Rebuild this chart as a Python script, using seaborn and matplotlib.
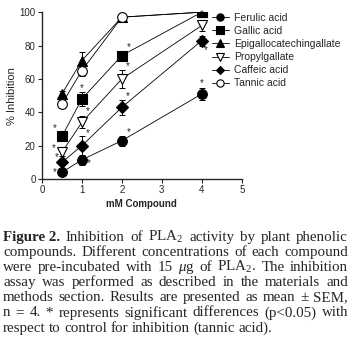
import numpy as np
import pandas as pd
import matplotlib
matplotlib.use('Agg')
import matplotlib.pyplot as plt
import seaborn as sns

# data (mean +/- SEM)
conc = [0.5, 1, 2, 4]
compounds = ['Ferulic acid', 'Gallic acid', 'Epigallocatechingallate',
             'Propylgallate', 'Caffeic acid', 'Tannic acid']
ferulic = [4, 11.5, 23, 51]
ferulic_err = [1.5, 3, 3, 3.5]
gallic = [25.5, 48, 74, 100]
gallic_err = [2.5, 4, 3, 0.5]
egcg = [51, 71, 97, 100]
egcg_err = [1.5, 5, 2.5, 0.5]
propyl = [16, 34, 60, 92]
propyl_err = [2, 3.5, 5.5, 3]
caffeic = [10, 20, 43, 83]
caffeic_err = [1.5, 6, 4.5, 3]
tannic = [45, 65, 97, 100]
tannic_err = [2.5, 3, 2, 0.5]

means = [ferulic, gallic, egcg, propyl, caffeic, tannic]
errs = [ferulic_err, gallic_err, egcg_err, propyl_err, caffeic_err, tannic_err]

# significance asterisks: (compound index, concentration index)
stars = [(0, 0), (0, 1), (0, 2), (0, 3), (1, 0), (1, 1), (1, 2),
         (3, 0), (3, 1), (3, 2), (3, 3), (4, 0), (4, 1), (4, 2), (4, 3)]
star_offsets = {(0, 0): (-5, 0), (0, 1): (5, -2), (0, 2): (5, 6), (0, 3): (0, 8),
                (1, 0): (-5, 6), (1, 1): (0, 8), (1, 2): (5, 6),
                (3, 0): (-6, 3), (3, 1): (4, 8), (3, 2): (4, 9), (3, 3): (0, 8),
                (4, 0): (-4, 4), (4, 1): (4, 9), (4, 2): (4, 8), (4, 3): (3, -7)}

rows = []
for name, m in zip(compounds, means):
    for c, v in zip(conc, m):
        rows.append({'compound': name, 'conc': c, 'inh': v})
df = pd.DataFrame(rows)

sns.set_style('ticks')
plt.rcParams['font.family'] = ['Liberation Sans', 'DejaVu Sans']
plt.rcParams['mathtext.fontset'] = 'custom'
plt.rcParams['mathtext.rm'] = 'Liberation Serif'
plt.rcParams['mathtext.it'] = 'Liberation Serif:italic'

markers = ['o', 's', '^', 'v', 'D', 'o']
fills = ['black', 'black', 'black', 'white', 'black', 'white']
sizes = [7, 7, 7, 7, 6, 7]
zorders = [4, 6, 3, 4, 4, 3]

fig = plt.figure(figsize=(3.52, 3.47), dpi=100)
ax = fig.add_axes([0.119, 0.484, 0.568, 0.481])

for i, name in enumerate(compounds):
    sub = df[df['compound'] == name]
    ax.errorbar(conc, means[i], yerr=errs[i], fmt='none', ecolor='black',
                elinewidth=0.7, capsize=2.5, capthick=0.7, zorder=2)
    sns.lineplot(data=sub, x='conc', y='inh', ax=ax, color='black', lw=0.6,
                 marker=markers[i], markersize=sizes[i], markerfacecolor=fills[i],
                 markeredgecolor='black', markeredgewidth=0.8, label=name,
                 zorder=zorders[i])

for (ci, xi) in stars:
    dx, dy = star_offsets[(ci, xi)]
    ax.annotate('*', (conc[xi], means[ci][xi]), xytext=(dx, dy),
                textcoords='offset points', ha='center', va='center', fontsize=7)

ax.set_xlim(0, 5)
ax.set_ylim(0, 100)
ax.set_xticks([0, 1, 2, 3, 4, 5])
ax.set_yticks([0, 20, 40, 60, 80, 100])
ax.tick_params(labelsize=7, width=0.8, length=3, pad=1.5)
sns.despine(ax=ax)
for s in ['left', 'bottom']:
    ax.spines[s].set_linewidth(1.0)
ax.set_xlabel('mM Compound', fontsize=7, fontweight='bold', labelpad=3)
ax.set_ylabel('% Inhibition', fontsize=8, labelpad=2)

leg = ax.legend(loc='upper left', bbox_to_anchor=(0.59, 0.975), bbox_transform=fig.transFigure,
                frameon=False, fontsize=7.5, handlelength=1.6, handletextpad=0.5,
                labelspacing=0.3, borderaxespad=0, markerscale=0.75)

# caption, justified line by line
caption = [
    [('Figure 2.', 'bold'), ('Inhibition', 'normal'), ('of', 'normal'), ('PLA$_2$', 'normal'),
     ('activity', 'normal'), ('by', 'normal'), ('plant', 'normal'), ('phenolic', 'normal')],
    'compounds. Different concentrations of each compound',
    'were pre-incubated with 15 $\\mu$g of PLA$_2$. The inhibition',
    'assay was performed as described in the materials and',
    'methods section. Results are presented as mean \u00b1 SEM,',
    'n = 4. * represents significant differences (p<0.05) with',
    'respect to control for inhibition (tannic acid).',
]
left_px, right_px = 3, 348
top_px, step_px = 241, 15.1
fig.canvas.draw()
renderer = fig.canvas.get_renderer()
W, H = fig.bbox.width, fig.bbox.height
for li, line in enumerate(caption):
    if isinstance(line, str):
        words = [(w, 'normal') for w in line.split(' ')]
    else:
        words = line
    y = 1 - (top_px + li * step_px) / H
    texts = []
    for w, wt in words:
        t = fig.text(0, y, w, fontsize=10.8, family='Liberation Serif', fontweight=wt,
                     ha='left', va='baseline')
        texts.append(t)
    widths = [t.get_window_extent(renderer).width for t in texts]
    last = li == len(caption) - 1
    if last:
        space = 3.5
    else:
        space = (right_px - left_px - sum(widths)) / (len(words) - 1)
    x = left_px
    for t, w in zip(texts, widths):
        t.set_x(x / W)
        x += w + space

fig.savefig('out.png', dpi=100)
